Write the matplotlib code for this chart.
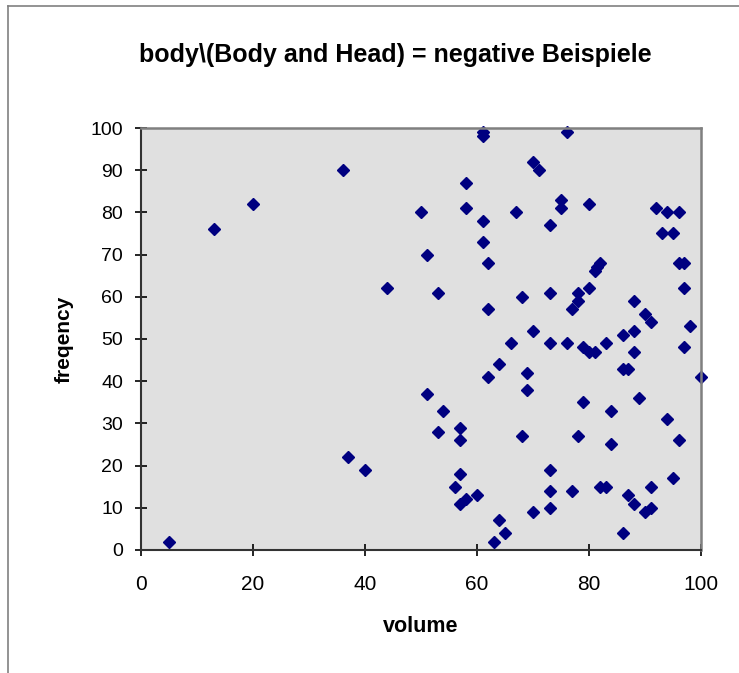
import matplotlib.pyplot as plt
from matplotlib.lines import Line2D

volume = [5, 13, 20, 36, 37, 40, 44, 50,
          51, 51, 53, 53, 54, 56, 57, 57, 57, 57, 58, 58, 58, 60,
          61, 61, 61, 61, 62, 62, 62, 63, 64, 64, 65, 66, 67, 68, 68, 69, 69,
          70, 70, 70, 71, 73, 73, 73, 73, 73, 73, 75, 75, 76, 76, 77, 77,
          78, 78, 78, 79, 79, 80, 80, 80, 81, 81, 82, 81.5, 82, 83, 83, 84, 84,
          86, 86, 86, 87, 87, 88, 88, 88, 88, 89, 90, 90, 91, 91, 91,
          92, 93, 94, 94, 95, 95, 96, 96, 96, 97, 97, 97, 98, 100]
freq = [2, 76, 82, 90, 22, 19, 62, 80,
        70, 37, 61, 28, 33, 15, 29, 26, 18, 11, 12, 87, 81, 13,
        99, 98, 78, 73, 68, 57, 41, 2, 44, 7, 4, 49, 80, 60, 27, 42, 38,
        92, 52, 9, 90, 77, 61, 49, 19, 14, 10, 83, 81, 99, 49, 57, 14,
        61, 59, 27, 48, 35, 82, 62, 47, 66, 47, 68, 67, 15, 49, 15, 33, 25,
        51, 43, 4, 43, 13, 59, 52, 47, 11, 36, 56, 9, 54, 15, 10,
        81, 75, 80, 31, 75, 17, 80, 68, 26, 68, 62, 48, 53, 41]

fig = plt.figure(figsize=(7.39, 6.73), dpi=100)
plt.rcParams['font.family'] = ['Liberation Sans', 'DejaVu Sans']

# outer chart frame (top and left only)
fig.add_artist(Line2D([0.011, 1.0], [0.991, 0.991], color='#808080', lw=1.2))
fig.add_artist(Line2D([0.011, 0.011], [0.0, 0.991], color='#808080', lw=1.2))

ax = fig.add_axes([0.1908, 0.1828, 0.7578, 0.627])
ax.set_facecolor('#e0e0e0')
ax.plot(volume, freq, linestyle='none', marker='D', markersize=6.5,
        color='#000080', clip_on=False)

ax.set_xlim(0, 100)
ax.set_ylim(0, 100)
ax.set_xticks(range(0, 101, 20))
ax.set_yticks(range(0, 101, 10))
ax.tick_params(direction='inout', length=8, width=1.2)
ax.tick_params(axis='y', labelsize=14, pad=9)
ax.tick_params(axis='x', labelsize=15, pad=14)

for side in ['top', 'right']:
    ax.spines[side].set_color('#808080')
    ax.spines[side].set_linewidth(1.8)
for side in ['left', 'bottom']:
    ax.spines[side].set_color('#333333')
    ax.spines[side].set_linewidth(1.5)

ax.set_xlabel("volume", fontsize=15.5, fontweight='bold', labelpad=16)
ax.set_ylabel("freqency", fontsize=15, fontweight='bold', labelpad=12)
fig.text(0.535, 0.918, "body\\(Body and Head) = negative Beispiele",
         ha='center', va='center', fontsize=18, fontweight='bold')

fig.savefig("out.png", dpi=100)
